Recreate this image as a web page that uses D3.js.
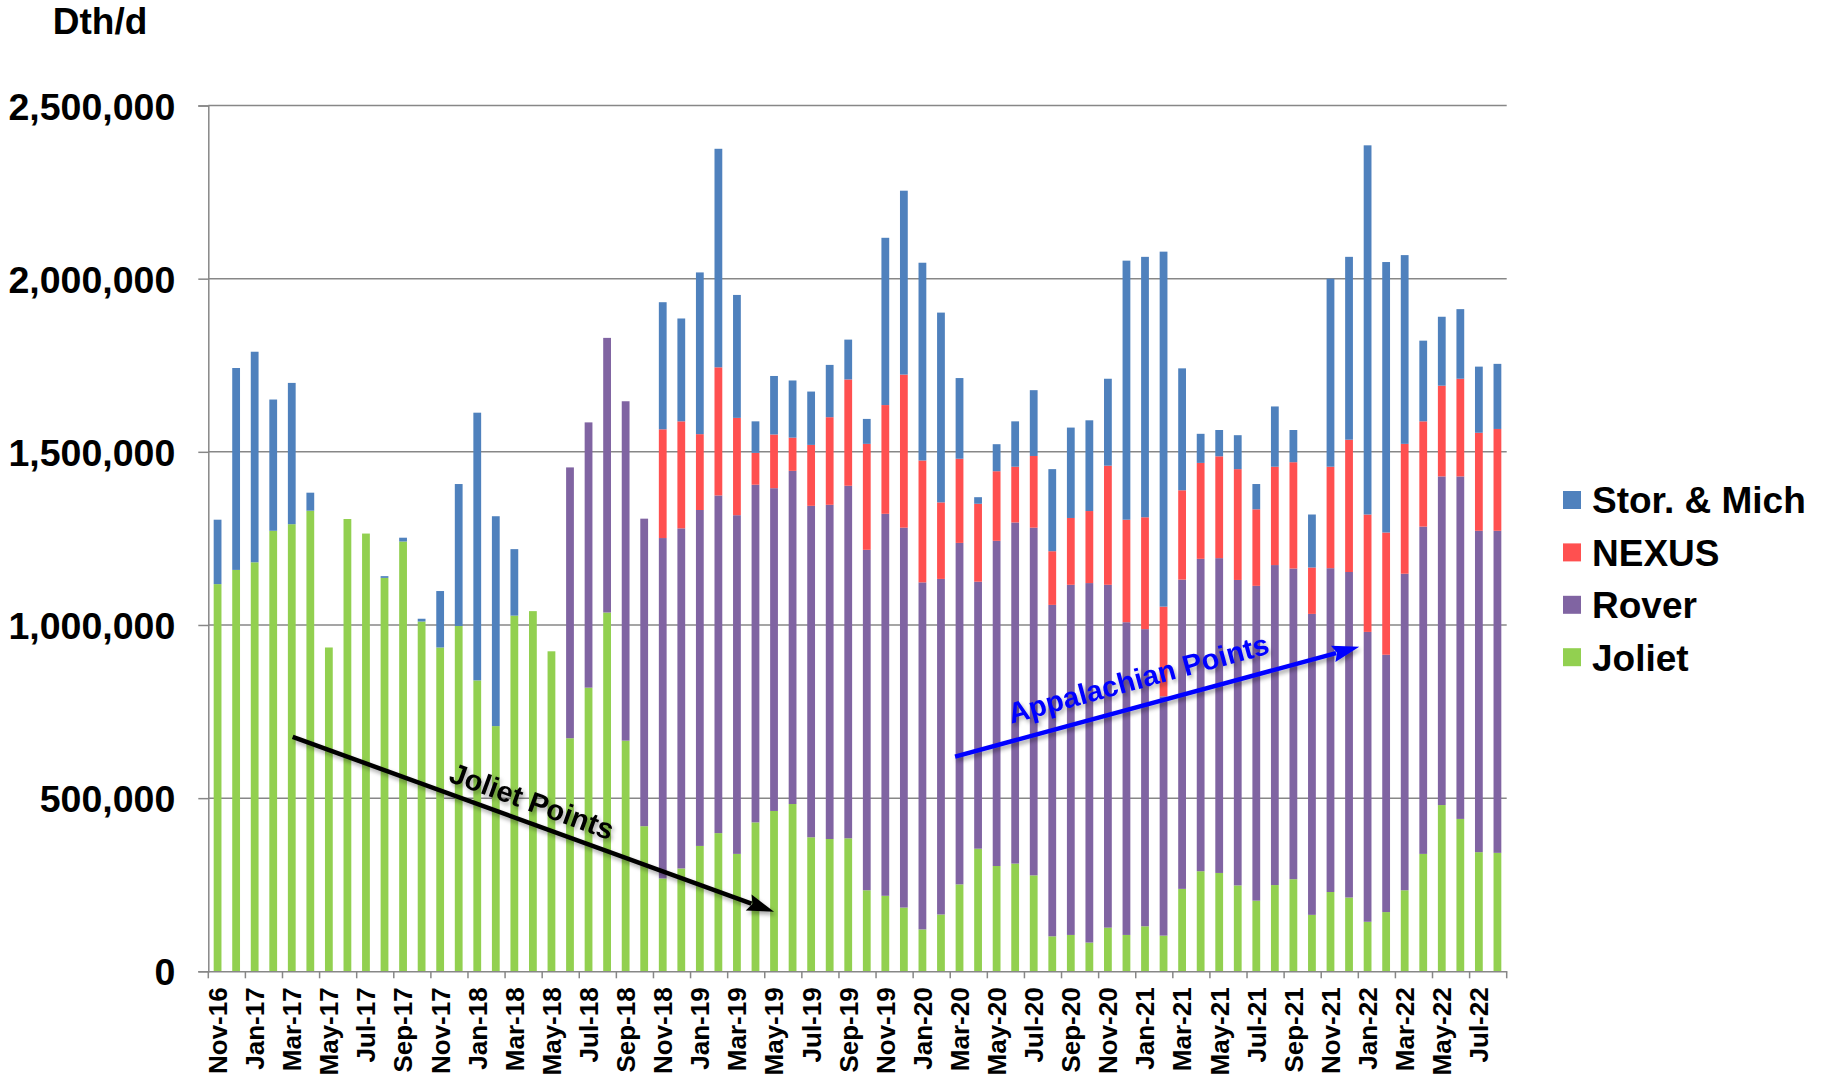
<!DOCTYPE html>
<html><head><meta charset="utf-8">
<script src="https://cdn.jsdelivr.net/npm/d3@7"></script>
<style>
body{margin:0;background:#fff}
svg{display:block}
text{font-family:"Liberation Sans",Arial,Helvetica,sans-serif;font-weight:bold;fill:#000}
</style>
</head><body>
<svg id="chart" width="1822" height="1078"></svg>
<script>
const months = ["Nov-16","Dec-16","Jan-17","Feb-17","Mar-17","Apr-17","May-17","Jun-17","Jul-17","Aug-17","Sep-17","Oct-17","Nov-17","Dec-17",
"Jan-18","Feb-18","Mar-18","Apr-18","May-18","Jun-18","Jul-18","Aug-18","Sep-18","Oct-18","Nov-18","Dec-18",
"Jan-19","Feb-19","Mar-19","Apr-19","May-19","Jun-19","Jul-19","Aug-19","Sep-19","Oct-19","Nov-19","Dec-19",
"Jan-20","Feb-20","Mar-20","Apr-20","May-20","Jun-20","Jul-20","Aug-20","Sep-20","Oct-20","Nov-20","Dec-20",
"Jan-21","Feb-21","Mar-21","Apr-21","May-21","Jun-21","Jul-21","Aug-21","Sep-21","Oct-21","Nov-21","Dec-21",
"Jan-22","Feb-22","Mar-22","Apr-22","May-22","Jun-22","Jul-22","Aug-22"];

const joliet = [1118000,1159000,1181000,1272000,1291000,1330000,935000,1306000,1264000,1136000,1241000,1010000,935000,997000,
840000,708000,1027000,1040000,924000,673000,819000,1036000,666000,419000,268000,297000,
362000,399000,339000,430000,463000,483000,387000,382000,384000,234000,218000,184000,
121000,164000,251000,354000,304000,311000,277000,101000,105000,83000,126000,105000,
130000,103000,238000,289000,284000,248000,204000,249000,266000,163000,229000,213000,
143000,171000,234000,339000,480000,440000,344000,342000];

const rover = [0,0,0,0,0,0,0,0,0,0,0,0,0,0,
0,0,0,0,0,782000,766000,793000,980000,888000,983000,982000,
970000,975000,978000,975000,932000,962000,957000,965000,1018000,983000,1103000,1097000,
1002000,969000,986000,771000,939000,985000,1004000,957000,1011000,1038000,990000,903000,
858000,691000,893000,902000,909000,882000,909000,924000,897000,869000,935000,940000,
837000,743000,914000,945000,949000,989000,928000,930000];

const nexus = [0,0,0,0,0,0,0,0,0,0,0,0,0,0,
0,0,0,0,0,0,0,0,0,0,314000,309000,
219000,370000,281000,92000,155000,96000,176000,253000,307000,306000,314000,442000,
352000,221000,243000,225000,201000,161000,207000,155000,193000,208000,344000,296000,
323000,259000,258000,277000,294000,320000,221000,284000,307000,134000,293000,382000,
339000,353000,375000,304000,262000,282000,283000,294000];

const storMich = [186000,583000,608000,379000,408000,52000,0,0,0,5000,11000,8000,163000,410000,
773000,606000,192000,0,0,0,0,0,0,0,367000,297000,
467000,631000,355000,91000,169000,165000,154000,151000,115000,72000,483000,531000,
571000,548000,233000,19000,78000,131000,190000,237000,261000,262000,251000,748000,
752000,1025000,352000,84000,76000,98000,73000,174000,93000,153000,543000,528000,
1066000,781000,545000,233000,199000,201000,191000,188000];

const yTicks = [0,500000,1000000,1500000,2000000,2500000];
const seriesNames = ["Joliet","Rover","NEXUS","Stor. & Mich"];
const seriesColors = ["#92D050","#8064A2","#FF5050","#4F81BD"];
const legendOrder = ["Stor. & Mich","NEXUS","Rover","Joliet"];

// annotations in data space: [band-boundary index, value]
const jolietArrow = {from:[4.55,677000], to:[30.5,172000], label:"Joliet Points", at:[17.45,492000], color:"#000000"};
const appArrow = {from:[40.26,620000], to:[62.05,937000], label:"Appalachian Points", at:[50.14,846000], color:"#0000FF"};

const svg = d3.select("#chart");
const L = 208.3, R = 1506.7, T = 105.5, B = 971.3;

const x = d3.scaleBand().domain(months).range([L,R]).paddingInner(0.58).paddingOuter(0.29);
const xi = d3.scaleLinear().domain([0,months.length]).range([L,R]);
const y = d3.scaleLinear().domain([0,2500000]).range([B,T]);

const defs = svg.append("defs");
const f = defs.append("filter").attr("id","sh").attr("x","-20%").attr("y","-50%").attr("width","140%").attr("height","200%");
f.append("feDropShadow").attr("dx",2).attr("dy",3).attr("stdDeviation",2).attr("flood-color","#000").attr("flood-opacity",0.35);

// gridlines
svg.append("g").selectAll("line").data(yTicks.filter(d=>d>0)).join("line")
  .attr("x1",L).attr("x2",R).attr("y1",d=>y(d)).attr("y2",d=>y(d))
  .attr("stroke","#878787").attr("stroke-width",1.5);

// stacked data
const rows = months.map((m,i)=>({month:m,"Joliet":joliet[i],"Rover":rover[i],"NEXUS":nexus[i],"Stor. & Mich":storMich[i]}));
const stack = d3.stack().keys(seriesNames)(rows);
const color = d3.scaleOrdinal().domain(seriesNames).range(seriesColors);

svg.append("g").selectAll("g").data(stack).join("g")
  .attr("fill",d=>color(d.key))
  .selectAll("rect").data(d=>d.filter(s=>s[1]-s[0]>0)).join("rect")
  .attr("x",d=>x(d.data.month))
  .attr("width",x.bandwidth())
  .attr("y",d=>y(d[1]))
  .attr("height",d=>y(d[0])-y(d[1]));

// y axis
const yAxis = svg.append("g").attr("transform",`translate(${L},0)`)
  .call(d3.axisLeft(y).tickValues(yTicks).tickFormat(d3.format(",")).tickSize(10).tickPadding(23));
yAxis.select(".domain").attr("stroke","#878787").attr("stroke-width",1.5);
yAxis.selectAll(".tick line").attr("stroke","#878787").attr("stroke-width",1.5);
yAxis.selectAll("text").style("font-size","37.5px").attr("dy","0.36em");

// x axis
const xAxis = svg.append("g").attr("transform",`translate(0,${B})`)
  .call(d3.axisBottom(x).tickValues(months.filter((d,i)=>i%2===0)).tickSize(0).tickPadding(0));
xAxis.select(".domain").attr("stroke","#878787").attr("stroke-width",1.5);
xAxis.selectAll("text").style("font-size","26px")
  .attr("transform","rotate(-90)").attr("text-anchor","end")
  .attr("x",-16).attr("y",0).attr("dy","0.36em");
// tick marks at every second band boundary
xAxis.append("g").selectAll("line").data(d3.range(0,months.length+1,2)).join("line")
  .attr("x1",d=>xi(d)).attr("x2",d=>xi(d)).attr("y1",0).attr("y2",7)
  .attr("stroke","#878787").attr("stroke-width",1.5);

// unit label
svg.append("text").attr("x",100).attr("y",34).attr("text-anchor","middle").style("font-size","37px").text("Dth/d");

// legend
const lg = svg.append("g").selectAll("g").data(legendOrder).join("g")
  .attr("transform",(d,i)=>`translate(1563,${500+i*52.4})`);
lg.append("rect").attr("x",0).attr("y",-9).attr("width",18).attr("height",18).attr("fill",d=>color(d));
lg.append("text").attr("x",29).attr("y",0).attr("dy","0.36em").style("font-size","37px").text(d=>d);

// annotations
function arrow(a){
  const g = svg.append("g").attr("filter","url(#sh)");
  const x1 = xi(a.from[0]), y1 = y(a.from[1]), x2 = xi(a.to[0]), y2 = y(a.to[1]);
  const ang = Math.atan2(y2-y1,x2-x1);
  const hl = 27, hw = 8.5;
  const bx = x2 - hl*Math.cos(ang), by = y2 - hl*Math.sin(ang);
  g.append("line").attr("x1",x1).attr("y1",y1).attr("x2",bx+3*Math.cos(ang)).attr("y2",by+3*Math.sin(ang))
    .attr("stroke",a.color).attr("stroke-width",4.5);
  g.append("path").attr("d",`M${x2},${y2}L${bx-hw*Math.sin(ang)},${by+hw*Math.cos(ang)}L${bx+4*Math.cos(ang)},${by+4*Math.sin(ang)}L${bx+hw*Math.sin(ang)},${by-hw*Math.cos(ang)}Z`)
    .attr("fill",a.color);
  const deg = ang*180/Math.PI;
  g.append("text").attr("transform",`translate(${xi(a.at[0])},${y(a.at[1])}) rotate(${deg})`)
    .attr("text-anchor","middle").attr("dy","0.36em").style("font-size","29px").style("fill",a.color).text(a.label);
}
arrow(jolietArrow);
arrow(appArrow);
</script>
</body></html>
